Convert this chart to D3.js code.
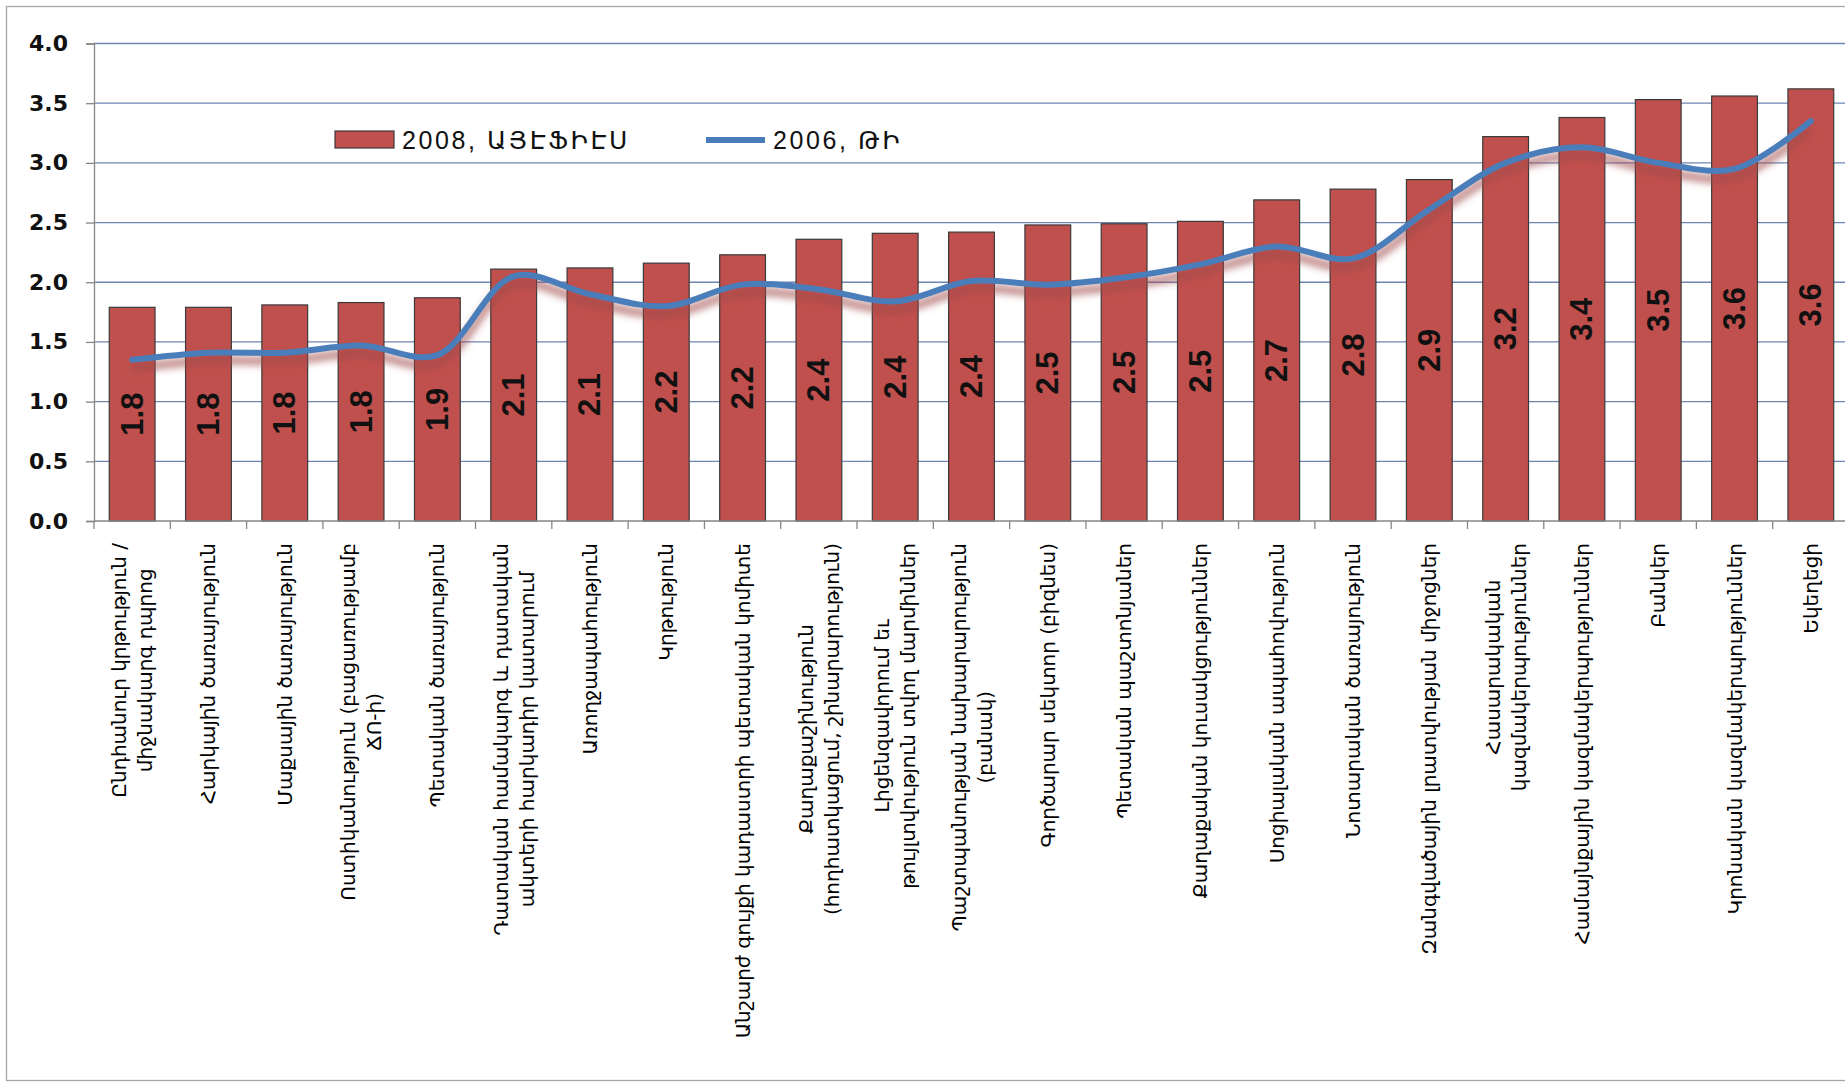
<!DOCTYPE html>
<html>
<head>
<meta charset="utf-8">
<script src="https://cdn.jsdelivr.net/npm/d3@7/dist/d3.min.js"></script>
<style>
  html, body { margin: 0; padding: 0; background: #ffffff; }
  svg { display: block; }
</style>
</head>
<body>
<svg id="chart" width="1845" height="1087"></svg>
<script>
// ---------------- DATA ----------------
const categories = [
  ["Ընդհանուր կրթություն /", "միջնակարգ դպրոց"],
  ["Հարկային ծառայություն"],
  ["Մաքսային ծառայություն"],
  ["Ոստիկանություն (բացառությամբ", "ՃՈ-ի)"],
  ["Պետական ծառայություն"],
  ["Դատական համակարգ և դատական", "ակտերի հարկադիր կատարում"],
  ["Առողջապահություն"],
  ["Կրթություն"],
  ["Անշարժ գույքի կադաստրի պետական կոմիտե"],
  ["Քաղաքաշինություն", "(հողհատկացում, շինարարություն)"],
  ["Լիցենզավորում եւ", "թույլտվություն տվող մարմիններ"],
  ["Պաշտպանության նախարարություն", "(բանակ)"],
  ["Գործարար սեկտոր (բիզնես)"],
  ["Պետական պաշտոնյաներ"],
  ["Քաղաքական կուսակցություններ"],
  ["Սոցիալական ապահովություն"],
  ["Նոտարական ծառայություն"],
  ["Զանգվածային լրատվության միջոցներ"],
  ["Հասարակական", "կազմակերպություններ"],
  ["Համայնքային կազմակերպություններ"],
  ["Բանկեր"],
  ["Կրոնական կազմակերպություններ"],
  ["Եկեղեցի"]
];
const ifes2008 = [1.79, 1.79, 1.81, 1.83, 1.87, 2.11, 2.12, 2.16, 2.23, 2.36, 2.41, 2.42,
                  2.48, 2.49, 2.51, 2.69, 2.78, 2.86, 3.22, 3.38, 3.53, 3.56, 3.62];
const ti2006   = [1.35, 1.41, 1.41, 1.47, 1.39, 2.05, 1.90, 1.80, 1.98, 1.94, 1.84, 2.01,
                  1.98, 2.04, 2.15, 2.30, 2.20, 2.61, 3.00, 3.13, 3.00, 2.95, 3.35];
const yTicks = [0, 0.5, 1.0, 1.5, 2.0, 2.5, 3.0, 3.5, 4.0];
const seriesNames = ["2008, ԱՅԷՖԻԷՍ", "2006, ԹԻ"];

// ---------------- LAYOUT ----------------
const svg = d3.select("#chart");
const plotLeft = 94, plotRight = 1849, plotTop = 43.5, plotBottom = 521;
const barColor = "#C0504D", lineColor = "#4A7EBB";

const x = d3.scaleBand()
  .domain(d3.range(categories.length))
  .range([plotLeft, plotRight])
  .paddingInner(0.4)
  .paddingOuter(0.2);
const y = d3.scaleLinear().domain([0, 4]).range([plotBottom, plotTop]);

const defs = svg.append("defs");
const f = defs.append("filter").attr("id", "shadow")
  .attr("x", "-5%").attr("y", "-50%").attr("width", "110%").attr("height", "200%");
f.append("feGaussianBlur").attr("stdDeviation", 3.5);

// outer border
svg.append("rect")
  .attr("x", 6.5).attr("y", 6.5).attr("width", 1900).attr("height", 1074)
  .attr("fill", "none").attr("stroke", "#a6a6a6").attr("stroke-width", 1.3);

// gridlines
svg.append("g").selectAll("line").data(yTicks.filter(d => d > 0)).join("line")
  .attr("x1", plotLeft).attr("x2", plotRight)
  .attr("y1", d => y(d)).attr("y2", d => y(d))
  .attr("stroke", "#6f86b4").attr("stroke-width", 1.3);

// y axis
const yAxis = svg.append("g")
  .attr("transform", `translate(${plotLeft},0)`)
  .call(d3.axisLeft(y).tickValues(yTicks).tickFormat(d3.format(".1f")).tickSize(8).tickPadding(18));
yAxis.select(".domain").attr("stroke", "#868686").attr("stroke-width", 1.3);
yAxis.selectAll(".tick line").attr("stroke", "#868686").attr("stroke-width", 1.3);
yAxis.selectAll(".tick text")
  .attr("font-family", "'DejaVu Sans', sans-serif")
  .attr("font-weight", "bold").attr("font-size", 22).attr("fill", "#111");

// bars
svg.append("g").selectAll("rect").data(ifes2008).join("rect")
  .attr("x", (d, i) => x(i))
  .attr("y", d => y(d))
  .attr("width", x.bandwidth())
  .attr("height", d => y(0) - y(d))
  .attr("fill", barColor)
  .attr("stroke", "#3a3a3a").attr("stroke-width", 1.2);

// x axis baseline and ticks
const step = x.step();
const boundaries = d3.range(categories.length + 1).map(i =>
  i < categories.length ? x(i) - x.paddingInner() * step / 2 : x(i - 1) + x.bandwidth() + x.paddingInner() * step / 2);
svg.append("line")
  .attr("x1", plotLeft).attr("x2", plotRight)
  .attr("y1", y(0)).attr("y2", y(0))
  .attr("stroke", "#868686").attr("stroke-width", 1.3);
svg.append("g").selectAll("line").data(boundaries).join("line")
  .attr("x1", d => d).attr("x2", d => d)
  .attr("y1", y(0)).attr("y2", y(0) + 8)
  .attr("stroke", "#868686").attr("stroke-width", 1.3);

// bar value labels
svg.append("g").selectAll("text").data(ifes2008).join("text")
  .attr("transform", (d, i) => `translate(${x(i) + x.bandwidth() / 2},${(y(d) + y(0)) / 2}) rotate(-90)`)
  .attr("text-anchor", "middle")
  .attr("dominant-baseline", "central")
  .attr("font-family", "'Liberation Sans Narrow', 'Liberation Sans', Arial, sans-serif")
  .attr("font-weight", "bold")
  .attr("font-size", 31)
  .attr("fill", "#111")
  .text(d => d3.format(".1f")(d));

// TI line with shadow
const line = d3.line()
  .x((d, i) => x(i) + x.bandwidth() / 2)
  .y(d => y(d))
  .curve(d3.curveCatmullRom.alpha(0.5));
svg.append("path")
  .datum(ti2006)
  .attr("d", line)
  .attr("transform", "translate(0,8)")
  .attr("fill", "none")
  .attr("stroke", "#a04848").attr("stroke-opacity", 0.6)
  .attr("stroke-width", 9)
  .attr("filter", "url(#shadow)");
svg.append("path")
  .datum(ti2006)
  .attr("d", line)
  .attr("fill", "none")
  .attr("stroke", lineColor)
  .attr("stroke-width", 6)
  .attr("stroke-linejoin", "round")
  .attr("stroke-linecap", "round");

// category labels (rotated -90, end-anchored at axis, lines centered)
const labelFont = "'DejaVu Sans', sans-serif";
const labelSize = 20;
const lineH = 26;
const labelTop = y(0) + 22;
categories.forEach((lines, i) => {
  const g = svg.append("g")
    .attr("transform", `translate(${x(i) + x.bandwidth() / 2},${labelTop}) rotate(-90)`);
  const texts = lines.map((t, j) => g.append("text")
    .attr("font-family", labelFont)
    .attr("font-size", labelSize)
    .attr("fill", "#000")
    .attr("dominant-baseline", "central")
    .attr("text-anchor", "middle")
    .attr("y", (j - (lines.length - 1) / 2) * lineH)
    .text(t));
  const maxLen = d3.max(texts, t => t.node().getComputedTextLength());
  texts.forEach(t => t.attr("x", -maxLen / 2));
});

// legend
const lg = svg.append("g");
lg.append("rect")
  .attr("x", 335).attr("y", 131).attr("width", 59).attr("height", 17)
  .attr("fill", barColor).attr("stroke", "#3a3a3a").attr("stroke-width", 1.2);
lg.append("text")
  .attr("x", 402).attr("y", 140)
  .attr("dominant-baseline", "central")
  .attr("font-family", "'Liberation Sans', 'DejaVu Sans', sans-serif")
  .attr("font-size", 25).attr("letter-spacing", 2.6)
  .attr("fill", "#111")
  .text(seriesNames[0]);
lg.append("line")
  .attr("x1", 706).attr("x2", 765).attr("y1", 140).attr("y2", 140)
  .attr("stroke", lineColor).attr("stroke-width", 6);
lg.append("text")
  .attr("x", 773).attr("y", 140)
  .attr("dominant-baseline", "central")
  .attr("font-family", "'Liberation Sans', 'DejaVu Sans', sans-serif")
  .attr("font-size", 25).attr("letter-spacing", 2.6)
  .attr("fill", "#111")
  .text(seriesNames[1]);
</script>
</body>
</html>
